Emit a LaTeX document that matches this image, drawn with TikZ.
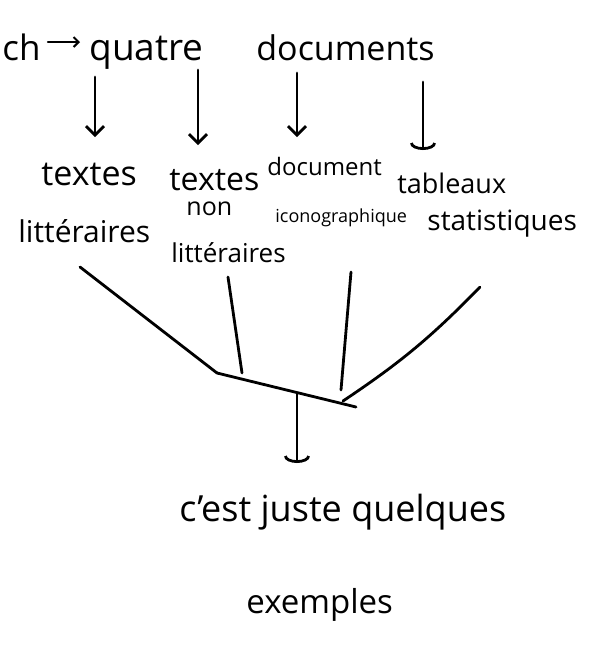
\documentclass[tikz,border=0pt]{standalone}
\usepackage{fontspec}
\setmainfont{Open Sans}
\usetikzlibrary{arrows.meta}

\begin{document}
\begin{tikzpicture}[x=1pt, y=-1pt, line width=2.8pt, line cap=round,
    hand/.style={anchor=base west, inner sep=0pt, font=\fontsize{#1}{#1}\selectfont},
    barb/.style={-{Straight Barb[length=9pt,width=18pt]}},
    cup/.style={-{Arc Barb[length=7pt,width=26pt]}}]
    \useasboundingbox (0,0) rectangle (593,662); %cadre de la page
    % titre
    \node[hand=35] (ch) at (1,60) {ch};
    \node[hand=37] (quatre) at (88,60) {quatre};
    \node[hand=34] (docs) at (255,60) {documents};
    \draw[-{Straight Barb[length=5pt,width=10pt]}, line width=2pt, shorten <=6pt, shorten >=8pt] (ch.east |- 0,42) -- (quatre.west |- 0,42); %ch -> quatre
    % les quatre documents
    \node[hand=34] (txt1) at (40,185) {textes};
    \node[hand=30] (lit1) at (17,242) {littéraires};
    \node[hand=32] (txt2) at (168,190) {textes};
    \node[hand=25] (non2) at (185,215) {non};
    \node[hand=26] (lit2) at (170,262) {littéraires};
    \node[hand=24] (doc3) at (266,175) {document};
    \node[hand=18] (ico3) at (274,222) {iconographique};
    \node[hand=27] (tab4) at (396,193) {tableaux};
    \node[hand=28] (sta4) at (426,230) {statistiques};
    % fleches vers le bas
    \coordinate (h1) at (95,77);  \coordinate (b1) at (95,137);
    \coordinate (h2) at (198,70); \coordinate (b2) at (198,145);
    \coordinate (h3) at (297,73); \coordinate (b3) at (297,137);
    \coordinate (h4) at (423,82); \coordinate (b4) at (423,150);
    \foreach \i in {1,2,3}
        \draw[barb] (h\i) -- (b\i);
    \draw[cup] (h4) -- (b4);
    % la barre
    \coordinate (jl) at (217,373); \coordinate (jr) at (356,407);
    \draw (jl) -- (jr); %barre
    \coordinate (f1) at (80,267);  \coordinate (f2) at (228,277);
    \coordinate (f3) at (351,272); \coordinate (f4) at (480,287);
    \draw (f1) -- (jl);
    \draw (f2) -- (242,373) coordinate (g2);
    \draw (f3) -- (341,390) coordinate (g3);
    \draw (f4) to[bend left=6] (343,401) coordinate (g4);
    % conclusion
    \coordinate (m) at (297,393);
    \draw[cup] (m) -- (297,463) coordinate (mb);
    \node[hand=36] (juste) at (178,521) {c'est juste quelques};
    \node[hand=33] (ex) at (245,613) {exemples};
\end{tikzpicture}
\end{document}
